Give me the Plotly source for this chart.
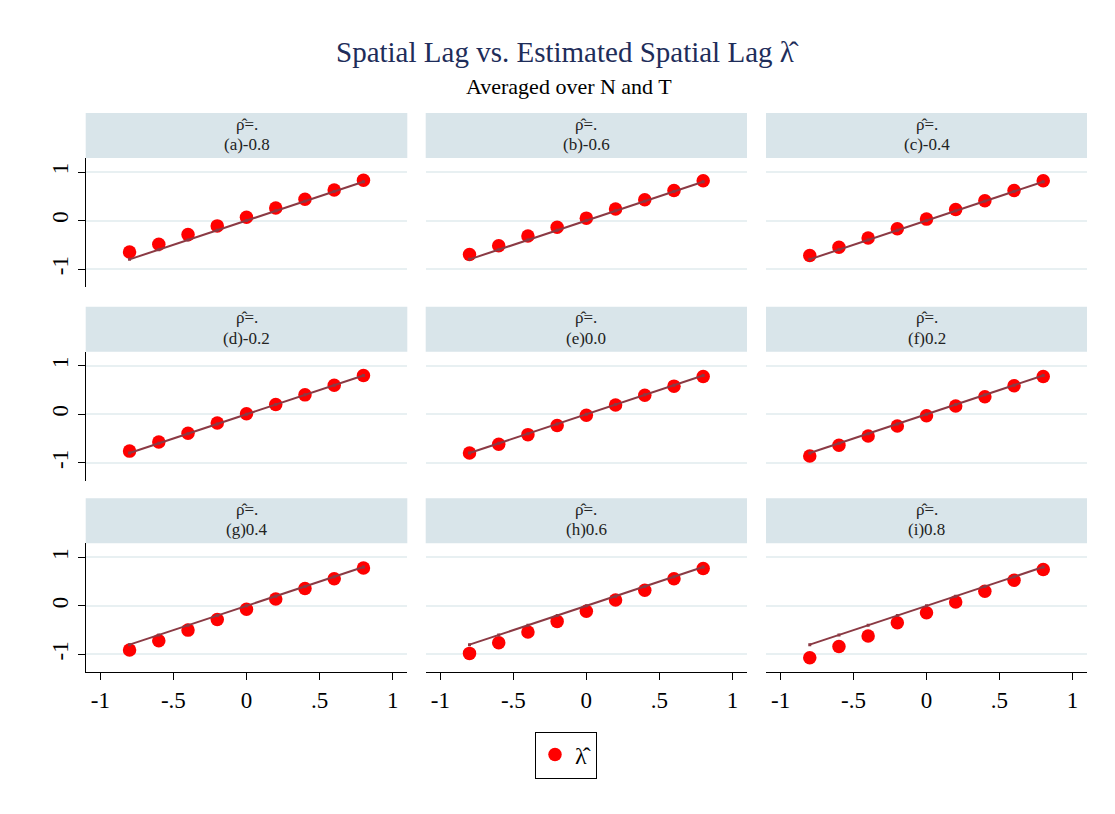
import plotly.graph_objects as go

# ---- data ----
true_lambda = [-0.8, -0.6, -0.4, -0.2, 0.0, 0.2, 0.4, 0.6, 0.8]
panel_labels = ["(a)-0.8", "(b)-0.6", "(c)-0.4", "(d)-0.2", "(e)0.0",
                "(f)0.2", "(g)0.4", "(h)0.6", "(i)0.8"]
est_a = [-0.65, -0.49, -0.29, -0.11, 0.07, 0.26, 0.44, 0.63, 0.83]
est_b = [-0.70, -0.52, -0.32, -0.14, 0.05, 0.24, 0.43, 0.62, 0.82]
est_c = [-0.72, -0.55, -0.36, -0.17, 0.03, 0.23, 0.41, 0.62, 0.82]
est_d = [-0.76, -0.57, -0.39, -0.18, 0.01, 0.20, 0.40, 0.60, 0.80]
est_e = [-0.80, -0.62, -0.42, -0.23, -0.02, 0.19, 0.39, 0.58, 0.78]
est_f = [-0.86, -0.64, -0.45, -0.24, -0.03, 0.17, 0.36, 0.59, 0.78]
est_g = [-0.91, -0.72, -0.50, -0.28, -0.07, 0.14, 0.36, 0.56, 0.78]
est_h = [-0.98, -0.76, -0.54, -0.32, -0.11, 0.12, 0.32, 0.56, 0.77]
est_i = [-1.07, -0.84, -0.62, -0.35, -0.14, 0.08, 0.30, 0.53, 0.75]
estimates = [est_a, est_b, est_c, est_d, est_e, est_f, est_g, est_h, est_i]
x_tickvals = [-1, -0.5, 0, 0.5, 1]
x_ticktext = ["-1", "-.5", "0", ".5", "1"]
y_tickvals = [-1, 0, 1]
y_ticktext = ["-1", "0", "1"]

# ---- layout geometry (pixels) ----
W, H = 1115, 814
col_x = [(85.7, 407.3), (425.7, 747.0), (766.0, 1087.0)]
row_header_top = [113.0, 306.7, 498.3]
HEADER_H = 45.0
PLOT_H = 129.0

FONT = "Liberation Serif, Times New Roman, serif"
HDR_BG = "#d9e5ea"
GRID = "#e8f0f2"
DOT = "#ff0000"
LINE = "#8b3a44"

def px_x(p):
    return p / W

def px_y(p):
    return 1 - p / H

fig = go.Figure()
shapes = []
annotations = []

for k in range(9):
    r, c = divmod(k, 3)
    n = k + 1
    xa = "x" if n == 1 else f"x{n}"
    ya = "y" if n == 1 else f"y{n}"
    x0, x1 = col_x[c]
    htop = row_header_top[r]
    ptop = htop + HEADER_H
    pbot = ptop + PLOT_H

    fig.add_trace(go.Scatter(
        x=true_lambda, y=estimates[k], mode="markers",
        marker=dict(color=DOT, size=13.5, line=dict(width=0)),
        name="λ̂", showlegend=(k == 0), legendgroup="est",
        xaxis=xa, yaxis=ya, cliponaxis=False))
    fig.add_trace(go.Scatter(
        x=true_lambda, y=true_lambda, mode="lines+markers",
        line=dict(color=LINE, width=2),
        marker=dict(color=LINE, size=3, symbol="square"),
        showlegend=False, xaxis=xa, yaxis=ya, hoverinfo="skip"))

    xkey = "xaxis" if n == 1 else f"xaxis{n}"
    ykey = "yaxis" if n == 1 else f"yaxis{n}"
    bottom_row = (r == 2)
    left_col = (c == 0)
    fig.layout[xkey] = dict(
        domain=[px_x(x0), px_x(x1)], anchor=ya, range=[-1.1, 1.1],
        showgrid=False, zeroline=False,
        showline=bottom_row, linecolor="black", linewidth=1.3,
        ticks="outside" if bottom_row else "", ticklen=7, tickcolor="black",
        tickwidth=1.3,
        tickvals=x_tickvals, ticktext=x_ticktext,
        showticklabels=bottom_row,
        tickfont=dict(family=FONT, size=23, color="black"))
    fig.layout[ykey] = dict(
        domain=[px_y(pbot), px_y(ptop)], anchor=xa, range=[-1.37, 1.29],
        showgrid=True, gridcolor=GRID, gridwidth=2, zeroline=False,
        showline=left_col, linecolor="black", linewidth=1.3,
        ticks="outside" if left_col else "", ticklen=7, tickcolor="black",
        tickwidth=1.3,
        tickvals=y_tickvals, ticktext=y_ticktext,
        showticklabels=left_col, tickangle=-90,
        tickfont=dict(family=FONT, size=23, color="black"))

    shapes.append(dict(type="rect", xref="paper", yref="paper",
                       x0=px_x(x0), x1=px_x(x1),
                       y0=px_y(htop + HEADER_H), y1=px_y(htop),
                       fillcolor=HDR_BG, line=dict(width=0), layer="below"))
    cx = px_x((x0 + x1) / 2)
    annotations.append(dict(text="ρ̂=.", x=cx, y=px_y(htop + 11),
                            xref="paper", yref="paper", showarrow=False,
                            xanchor="center", yanchor="middle",
                            font=dict(family=FONT, size=17, color="#222")))
    annotations.append(dict(text=panel_labels[k], x=cx, y=px_y(htop + 31.5),
                            xref="paper", yref="paper", showarrow=False,
                            xanchor="center", yanchor="middle",
                            font=dict(family=FONT, size=17, color="#222")))

annotations.append(dict(text="Spatial Lag vs. Estimated Spatial Lag λ̂",
                        x=px_x(567), y=px_y(52), xref="paper", yref="paper",
                        showarrow=False, xanchor="center", yanchor="middle",
                        font=dict(family=FONT, size=29, color="#1e2d5a")))
annotations.append(dict(text="Averaged over N and T",
                        x=px_x(569), y=px_y(87), xref="paper", yref="paper",
                        showarrow=False, xanchor="center", yanchor="middle",
                        font=dict(family=FONT, size=22, color="black")))

fig.update_layout(
    width=W, height=H, margin=dict(l=0, r=0, t=0, b=0),
    paper_bgcolor="white", plot_bgcolor="white",
    shapes=shapes, annotations=annotations,
    showlegend=True,
    legend=dict(x=px_x(566), y=px_y(755), xanchor="center", yanchor="middle",
                bordercolor="black", borderwidth=1, bgcolor="white",
                font=dict(family=FONT, size=24, color="black"),
                itemwidth=30, orientation="h"),
    font=dict(family=FONT),
)

fig.write_html("out.html")
